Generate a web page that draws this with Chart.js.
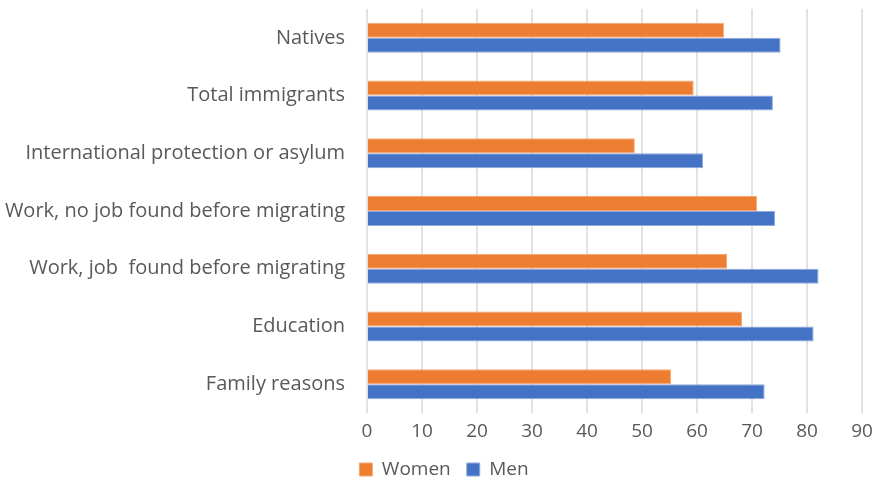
<!DOCTYPE html>
<html>
<head>
<meta charset="utf-8">
<script src="https://cdn.jsdelivr.net/npm/chart.js@4.4.1/dist/chart.umd.min.js"></script>
<style>
  html, body { margin: 0; padding: 0; background: #ffffff; }
  #wrap { width: 880px; height: 481px; position: relative; }
</style>
</head>
<body>
<div id="wrap"><canvas id="chart"></canvas></div>
<script>
// Employment rate by reason for migrating (%), women vs men
const categories = [
  'Natives',
  'Total immigrants',
  'International protection or asylum',
  'Work, no job found before migrating',
  'Work, job  found before migrating',
  'Education',
  'Family reasons'
];
const women = [64.9, 59.4, 48.7, 70.9, 65.5, 68.2, 55.3];
const men   = [75.2, 73.8, 61.1, 74.2, 82.1, 81.2, 72.3];
const xTicks = [0, 10, 20, 30, 40, 50, 60, 70, 80, 90];

const FONT = '"Open Sans", Lato, sans-serif';
const TEXT = '#595959';

// nudge the legend row so it sits centred under the whole figure
const legendShift = {
  id: 'legendShift',
  afterLayout(chart) {
    const lg = chart.legend;
    if (lg) { lg.left += 13; lg.right += 13; }
  }
};

new Chart(document.getElementById('chart'), {
  type: 'bar',
  data: {
    labels: categories,
    datasets: [
      { label: 'Women', data: women, backgroundColor: '#ED7D31', borderColor: '#F4A774', borderWidth: 1 },
      { label: 'Men',   data: men,   backgroundColor: '#4472C4', borderColor: '#8FAADC', borderWidth: 1 }
    ]
  },
  plugins: [legendShift],
  options: {
    indexAxis: 'y',
    responsive: true,
    maintainAspectRatio: false,
    animation: false,
    layout: { padding: { top: 9, right: 18, left: 0, bottom: -8 } },
    datasets: { bar: { barPercentage: 1, categoryPercentage: 0.52 } },
    scales: {
      x: {
        min: 0, max: 90,
        afterBuildTicks: (s) => { s.ticks = xTicks.map(v => ({ value: v })); },
        grid: { color: '#e2e2e2', lineWidth: 2, drawTicks: false },
        border: { display: false },
        ticks: { color: TEXT, font: { family: FONT, size: 19 }, padding: 7 },
        afterFit: (s) => { s.height = 31; }
      },
      y: {
        grid: { display: false, drawTicks: false },
        border: { display: false },
        ticks: { color: TEXT, font: { family: FONT, size: 20 }, padding: 22 },
        afterFit: (s) => { s.width = 367; s.paddingTop = 0; s.paddingBottom = 0; }
      }
    },
    plugins: {
      legend: {
        position: 'bottom',
        labels: {
          color: TEXT,
          font: { family: FONT, size: 19 },
          boxWidth: 13, boxHeight: 13,
          padding: 16
        }
      },
      tooltip: { enabled: false }
    }
  }
});
</script>
</body>
</html>
